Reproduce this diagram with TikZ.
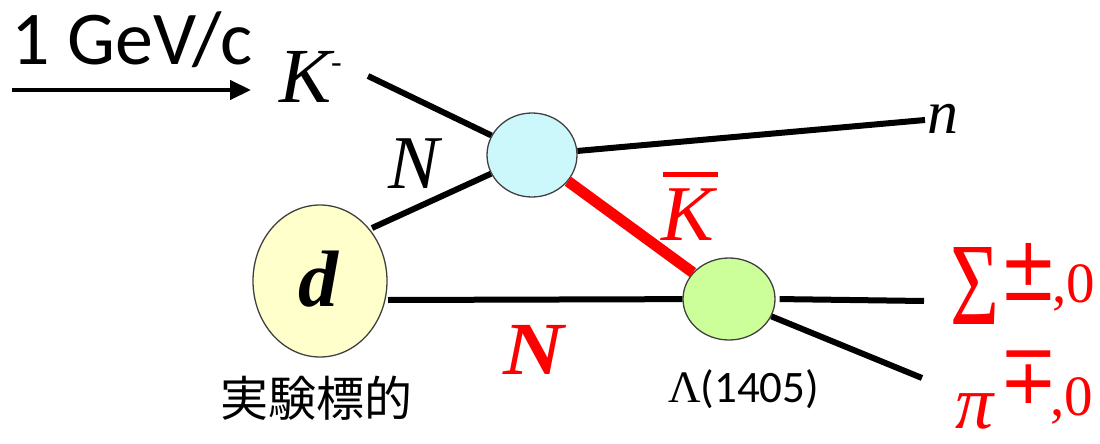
\documentclass[tikz,border=0pt]{standalone}
\usepackage{fontspec}
\setmainfont{Carlito}
\newfontfamily\tnr{Liberation Serif}
\newfontfamily\dvserif{DejaVu Serif}
\newfontfamily\cjk{Noto Sans CJK JP}
\usetikzlibrary{arrows.meta,shapes.geometric}
\definecolor{blobcyan}{RGB}{204,248,252}
\definecolor{blobyellow}{RGB}{255,255,204}
\definecolor{blobgreen}{RGB}{204,255,153}
\definecolor{partred}{RGB}{255,0,0}
\tikzset{
  blob/.style={ellipse, draw=black!75, line width=1.3pt, inner sep=0pt},
  leg/.style={line width=6pt, black},
  lbl/.style={inner sep=0pt, outer sep=0pt},
}
\begin{document}
\begin{tikzpicture}[x=1pt, y=-1pt]
\useasboundingbox (0,0) rectangle (1100,444);

% beam momentum
\node[lbl, anchor=base west] (mom) at (12,65) {\fontsize{76}{76}\selectfont 1 GeV/c};
\coordinate (beamA) at (12,90);
\coordinate (beamB) at (251,90);
\draw[line width=4.5pt, -{Triangle[length=21pt,width=19pt]}] (beamA) -- (beamB);

% vertices
\node[blob, fill=blobcyan, minimum width=90pt, minimum height=84pt] (v1) at (532,155) {};
\node[blob, fill=blobyellow, minimum width=134pt, minimum height=152pt] (deut) at (320,281) {};
\node[lbl, anchor=base] (dlab) at (318,306)
  {\tnr\bfseries\itshape\fontsize{80}{80}\selectfont d};
\node[blob, fill=blobgreen, minimum width=92pt, minimum height=82pt] (v2) at (729,299) {};

% particle labels
\node[lbl, anchor=base west] (kminus) at (279,102)
  {\tnr\itshape\fontsize{78}{78}\selectfont K\raisebox{29pt}{\upshape\fontsize{32}{32}\selectfont -}};
\node[lbl, anchor=base west] (neut) at (927,133) {\tnr\itshape\fontsize{62}{62}\selectfont n};
\node[lbl, anchor=base west] (nuc1) at (388,188) {\tnr\itshape\fontsize{76}{76}\selectfont N};
\node[lbl, anchor=base west, text=partred] (kbar) at (661,240) {\tnr\itshape\fontsize{79}{79}\selectfont K};
\node[lbl, anchor=base west, text=partred] (nuc2) at (503,374)
  {\scalebox{1.12}[1]{\tnr\bfseries\itshape\fontsize{75}{75}\selectfont N}};
\node[lbl, anchor=base west] (lam) at (668,402)
  {\fontsize{45}{45}\selectfont{\tnr Λ}(1405)};

% decay products
\node[lbl, anchor=base west, text=partred] (sig) at (950,324)
  {\raisebox{0pt}[\height][0pt]{\scalebox{1}[1.4]{\tnr\fontsize{84}{84}\selectfont Σ}}};
\node[lbl, anchor=base west, text=partred] (sigsup) at (999,300)
  {\scalebox{1}[1.3]{\dvserif\fontsize{70}{70}\selectfont ±}\kern-5pt\tnr\fontsize{57}{57}\selectfont\raisebox{-2pt}{,0}};
\node[lbl, anchor=base west, text=partred] (pion) at (955,428)
  {\raisebox{0pt}[\height][0pt]{\tnr\itshape\fontsize{76}{76}\selectfont π}};
\node[lbl, anchor=base west, text=partred] (pisup) at (999,403)
  {\scalebox{1}[1.2]{\dvserif\fontsize{70}{70}\selectfont ∓}\kern-7pt\tnr\fontsize{57}{57}\selectfont\raisebox{-12pt}[\height][0pt]{,0}};

\node[lbl] (target) at (316,398) {\cjk\fontsize{48}{48}\selectfont 実験標的};

% free ends of the external legs
\coordinate (kin) at (368,76);
\coordinate (nout) at (925,120);
\coordinate (nin) at (372,228);
\coordinate (dN) at (388,300);
\coordinate (sout) at (924,301);
\coordinate (pout) at (922,378);
\coordinate (barL) at (663,174);
\coordinate (barR) at (718,174);

% legs
\draw[leg] (kin) -- (v1);
\draw[leg] (v1) -- (nout);
\draw[leg] (nin) -- (v1);
\draw[leg] (dN) -- (v2);
\draw[leg, shorten <=4pt] (v2.east) -- (sout);
\draw[leg] (v2) -- (pout);
\draw[line width=11pt, partred] (v1) -- (v2);
\draw[line width=5pt, partred] (barL) -- (barR);
\end{tikzpicture}
\end{document}
